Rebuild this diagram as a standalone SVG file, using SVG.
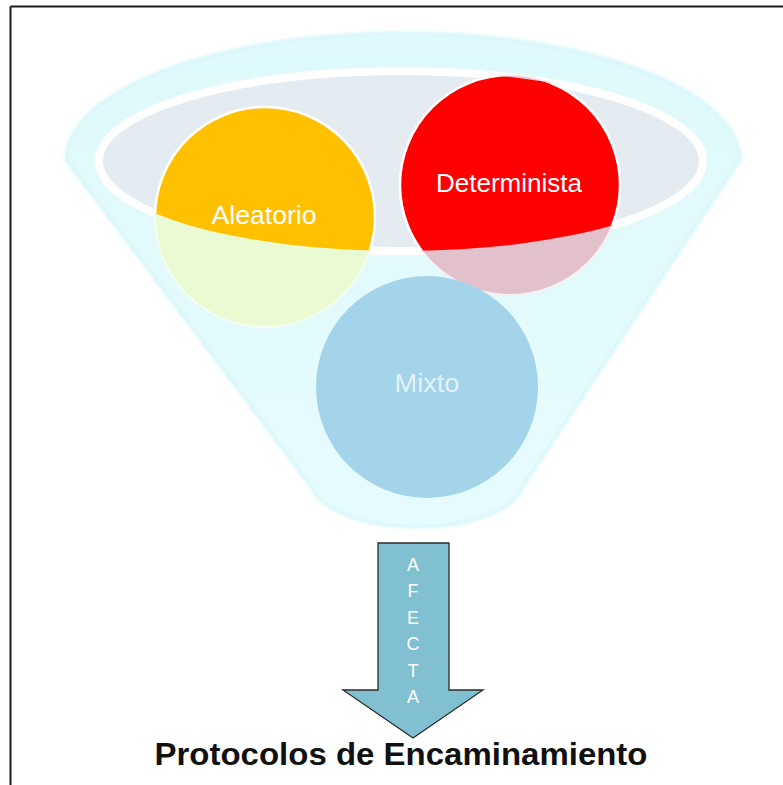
<svg xmlns="http://www.w3.org/2000/svg" width="783" height="785" viewBox="0 0 783 785">
  <style>
    .lbl { font-family: "Liberation Sans", Arial, sans-serif; font-size: 26px; fill: #ffffff; text-anchor: middle; }
    .vlet { font-family: "Liberation Sans", Arial, sans-serif; font-size: 18px; fill: #ffffff; text-anchor: middle; }
    .title { font-family: "Liberation Sans", Arial, sans-serif; font-size: 32px; font-weight: bold; fill: #111111; text-anchor: middle; }
  </style>
  <defs>
    <!-- bowl of the funnel: everything above its lower rim shows in full colour -->
    <clipPath id="bowl">
      <ellipse cx="401" cy="161" rx="302" ry="90"/>
    </clipPath>
    <filter id="soft" x="-5%" y="-5%" width="110%" height="110%">
      <feGaussianBlur stdDeviation="1.6"/>
    </filter>
    <linearGradient id="glass" x1="0" y1="0" x2="0" y2="1">
      <stop offset="0" stop-color="#dff9fc"/>
      <stop offset="1" stop-color="#e6fbfd"/>
    </linearGradient>
  </defs>

  <rect width="783" height="785" fill="#ffffff"/>

  <!-- frame -->
  <g id="frame" stroke="#1a1a1a" stroke-width="2" fill="none">
    <line x1="10.5" y1="6.5" x2="783" y2="6.5"/>
    <line x1="10.5" y1="6.5" x2="10.5" y2="785"/>
  </g>

  <!-- funnel body -->
  <g id="funnel">
    <path d="M66,160 A337,127 0 0 1 740,160 L522,488 C500,540 335,540 312,488 Z"
          fill="url(#glass)" stroke="#d6f6fa" stroke-width="3" filter="url(#soft)"/>
    <ellipse cx="401" cy="161" rx="302" ry="90" fill="#e5ecf1" stroke="#ffffff" stroke-width="8"/>
  </g>

  <!-- categories -->
  <g id="aleatorio">
    <circle cx="265" cy="217" r="110" fill="#eafad2" stroke="#f4fdf0" stroke-width="2"/>
    <circle cx="265" cy="217" r="110" fill="#ffc000" stroke="#ffffff" stroke-width="2.5" clip-path="url(#bowl)"/>
    <text class="lbl" x="264" y="224" textLength="105" lengthAdjust="spacingAndGlyphs">Aleatorio</text>
  </g>

  <g id="determinista">
    <circle cx="510" cy="185" r="110" fill="#e2c0cc" stroke="#f6f0f4" stroke-width="2"/>
    <circle cx="510" cy="185" r="110" fill="#ff0000" stroke="#ffffff" stroke-width="2.5" clip-path="url(#bowl)"/>
    <text class="lbl" x="509" y="192" textLength="146" lengthAdjust="spacingAndGlyphs">Determinista</text>
  </g>

  <g id="mixto">
    <circle cx="427" cy="387" r="111" fill="#a4d4ea"/>
    <text class="lbl" x="427" y="392" textLength="65" lengthAdjust="spacingAndGlyphs" style="fill:#e2f2f8">Mixto</text>
  </g>

  <!-- connector: block arrow down to the result -->
  <g id="connectors">
    <path d="M378,543 H449 V690 H483 L413,738 L343,690 H378 Z" fill="#80c0d0" stroke="#2b2b2b" stroke-width="1.3" stroke-linejoin="miter"/>
    <text class="vlet" x="413" y="571">A</text>
    <text class="vlet" x="413" y="597.4">F</text>
    <text class="vlet" x="413" y="623.8">E</text>
    <text class="vlet" x="413" y="650.2">C</text>
    <text class="vlet" x="413" y="676.6">T</text>
    <text class="vlet" x="413" y="703">A</text>
  </g>

  <g id="resultado">
    <text class="title" x="401" y="765" textLength="493" lengthAdjust="spacingAndGlyphs">Protocolos de Encaminamiento</text>
  </g>
</svg>
